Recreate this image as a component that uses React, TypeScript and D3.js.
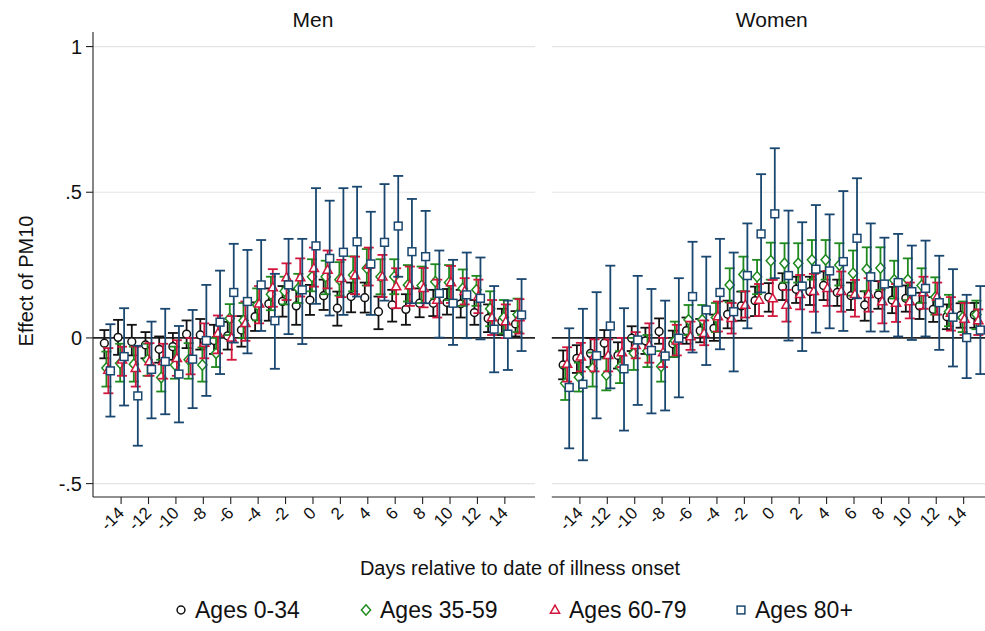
import React from 'react';
import * as d3 from 'd3';

const DAYS = [-15,-14,-13,-12,-11,-10,-9,-8,-7,-6,-5,-4,-3,-2,-1,0,1,2,3,4,5,6,7,8,9,10,11,12,13,14,15];
const X_TICKS = [-14,-12,-10,-8,-6,-4,-2,0,2,4,6,8,10,12,14];
const Y_TICKS = [1, 0.5, 0, -0.5];
const Y_TICK_LABELS = ['1', '.5', '0', '-.5'];
const PANELS = ['Men', 'Women'];
const GROUPS = ['Ages 0-34', 'Ages 35-59', 'Ages 60-79', 'Ages 80+'];

const MEN_A_EST = [-0.018,0.002,-0.013,-0.024,-0.039,-0.03,0.013,0.01,-0.009,0.007,0.027,0.073,0.117,0.125,0.11,0.13,0.145,0.102,0.142,0.138,0.09,0.113,0.098,0.119,0.119,0.122,0.117,0.087,0.067,0.056,0.048];
const MEN_A_LO = [-0.07,-0.058,-0.06,-0.07,-0.085,-0.075,-0.035,-0.04,-0.055,-0.04,-0.03,0.024,0.059,0.073,0.045,0.079,0.096,0.042,0.088,0.087,0.03,0.056,0.045,0.071,0.075,0.08,0.07,0.045,0.02,0.01,0.005];
const MEN_A_HI = [0.027,0.062,0.045,0.02,0.005,0.017,0.06,0.065,0.045,0.055,0.075,0.122,0.17,0.178,0.165,0.182,0.2,0.159,0.19,0.19,0.142,0.165,0.15,0.17,0.165,0.168,0.165,0.13,0.115,0.1,0.092];

const MEN_B_EST = [-0.103,-0.087,-0.09,-0.075,-0.136,-0.093,-0.075,-0.093,-0.053,0.067,0.06,0.113,0.15,0.16,0.17,0.21,0.21,0.2,0.216,0.239,0.21,0.21,0.182,0.18,0.193,0.19,0.17,0.165,0.1,0.07,0.08];
const MEN_B_LO = [-0.167,-0.15,-0.15,-0.13,-0.184,-0.14,-0.14,-0.15,-0.1,0.01,0.0,0.06,0.095,0.115,0.12,0.16,0.15,0.145,0.16,0.18,0.15,0.15,0.125,0.12,0.135,0.13,0.11,0.11,0.04,0.015,0.02];
const MEN_B_HI = [-0.047,-0.02,-0.03,-0.02,-0.075,-0.03,-0.018,-0.033,0.0,0.116,0.12,0.17,0.21,0.21,0.22,0.27,0.265,0.26,0.28,0.305,0.27,0.27,0.25,0.245,0.253,0.25,0.235,0.213,0.16,0.13,0.135];

const MEN_C_EST = [-0.11,-0.075,-0.104,-0.081,-0.08,-0.07,-0.07,-0.018,0.016,0.0,0.05,0.117,0.173,0.207,0.207,0.239,0.233,0.205,0.214,0.25,0.21,0.176,0.18,0.17,0.13,0.19,0.16,0.142,0.07,0.056,0.07];
const MEN_C_LO = [-0.19,-0.13,-0.167,-0.13,-0.14,-0.13,-0.125,-0.07,-0.053,-0.075,-0.01,0.05,0.107,0.13,0.142,0.176,0.17,0.14,0.15,0.18,0.14,0.102,0.11,0.105,0.07,0.12,0.115,0.085,0.01,0.0,0.015];
const MEN_C_HI = [-0.035,-0.03,-0.03,-0.018,-0.02,-0.008,0.0,0.05,0.077,0.075,0.125,0.178,0.236,0.256,0.273,0.31,0.3,0.268,0.279,0.31,0.285,0.239,0.245,0.24,0.2,0.247,0.205,0.2,0.13,0.115,0.133];

const MEN_D_EST = [-0.113,-0.064,-0.199,-0.108,-0.081,-0.124,-0.073,-0.009,0.054,0.156,0.125,0.182,0.059,0.182,0.165,0.316,0.273,0.294,0.33,0.254,0.328,0.384,0.296,0.279,0.153,0.119,0.148,0.136,0.03,0.013,0.079];
const MEN_D_LO = [-0.27,-0.232,-0.37,-0.276,-0.262,-0.29,-0.241,-0.199,-0.124,-0.016,-0.053,0.024,-0.106,0.013,-0.021,0.117,0.077,0.079,0.142,0.079,0.128,0.21,0.119,0.119,0.001,-0.024,-0.001,-0.005,-0.118,-0.11,-0.045];
const MEN_D_HI = [0.047,0.102,-0.027,0.056,0.1,0.041,0.096,0.182,0.231,0.323,0.302,0.336,0.22,0.34,0.34,0.514,0.471,0.514,0.519,0.433,0.528,0.556,0.477,0.436,0.3,0.268,0.293,0.276,0.178,0.128,0.202];

const WOMEN_A_EST = [-0.093,-0.07,-0.053,-0.018,-0.06,-0.001,-0.01,0.022,-0.02,0.025,0.025,0.033,0.081,0.11,0.128,0.14,0.176,0.167,0.159,0.18,0.156,0.145,0.113,0.148,0.13,0.136,0.11,0.098,0.073,0.077,0.079];
const WOMEN_A_LO = [-0.142,-0.12,-0.1,-0.065,-0.105,-0.045,-0.055,-0.02,-0.065,-0.02,-0.015,-0.01,0.033,0.059,0.075,0.09,0.13,0.12,0.113,0.13,0.11,0.096,0.059,0.1,0.085,0.09,0.065,0.055,0.03,0.035,0.035];
const WOMEN_A_HI = [-0.043,-0.025,0.0,0.027,-0.015,0.04,0.035,0.067,0.025,0.07,0.065,0.08,0.128,0.159,0.176,0.188,0.222,0.21,0.21,0.228,0.2,0.19,0.16,0.195,0.175,0.18,0.155,0.14,0.115,0.119,0.12];

const WOMEN_B_EST = [-0.156,-0.135,-0.104,-0.127,-0.1,-0.053,-0.045,-0.098,-0.01,0.062,0.062,0.07,0.182,0.218,0.21,0.265,0.256,0.256,0.268,0.268,0.25,0.222,0.236,0.24,0.199,0.2,0.18,0.14,0.09,0.07,0.08];
const WOMEN_B_LO = [-0.213,-0.184,-0.167,-0.18,-0.155,-0.11,-0.1,-0.15,-0.065,0.01,0.01,0.02,0.122,0.16,0.15,0.2,0.19,0.19,0.2,0.2,0.18,0.145,0.16,0.165,0.135,0.13,0.12,0.08,0.04,0.02,0.03];
const WOMEN_B_HI = [-0.1,-0.085,-0.05,-0.07,-0.045,0.0,0.01,-0.045,0.056,0.113,0.113,0.12,0.239,0.279,0.268,0.327,0.325,0.325,0.336,0.336,0.325,0.3,0.311,0.311,0.265,0.273,0.239,0.208,0.148,0.125,0.128];

const WOMEN_C_EST = [-0.09,-0.065,-0.06,-0.06,-0.05,-0.025,-0.025,-0.05,-0.01,0.005,0.016,0.073,0.067,0.113,0.13,0.135,0.113,0.15,0.16,0.17,0.16,0.15,0.15,0.125,0.12,0.125,0.156,0.14,0.085,0.065,0.06];
const WOMEN_C_LO = [-0.15,-0.115,-0.115,-0.115,-0.1,-0.07,-0.085,-0.1,-0.06,-0.041,-0.025,0.022,0.015,0.07,0.075,0.075,0.056,0.098,0.09,0.11,0.09,0.073,0.09,0.05,0.055,0.067,0.1,0.08,0.025,0.01,0.01];
const WOMEN_C_HI = [-0.032,-0.017,-0.005,-0.005,0.0,0.02,0.05,0.0,0.045,0.056,0.06,0.125,0.12,0.16,0.185,0.199,0.165,0.216,0.22,0.23,0.228,0.199,0.205,0.193,0.185,0.19,0.21,0.19,0.14,0.12,0.098];

const WOMEN_D_EST = [-0.17,-0.159,-0.061,0.041,-0.106,-0.007,-0.043,-0.062,-0.001,0.142,0.096,0.156,0.09,0.214,0.357,0.426,0.214,0.178,0.236,0.23,0.262,0.342,0.21,0.185,0.19,0.159,0.17,0.121,0.071,0.001,0.027];
const WOMEN_D_LO = [-0.379,-0.42,-0.276,-0.173,-0.318,-0.23,-0.259,-0.249,-0.204,-0.05,-0.093,-0.039,-0.115,0.033,0.156,0.205,-0.009,-0.045,0.018,0.033,0.024,0.136,0.022,0.022,0.005,-0.007,0.005,-0.041,-0.098,-0.138,-0.124];
const WOMEN_D_HI = [0.033,0.1,0.157,0.248,0.102,0.213,0.168,0.128,0.205,0.33,0.279,0.34,0.293,0.393,0.562,0.651,0.437,0.397,0.456,0.424,0.504,0.548,0.393,0.344,0.357,0.317,0.334,0.282,0.236,0.148,0.178];

const PANEL_DATA = [
  [
    [MEN_A_EST, MEN_A_LO, MEN_A_HI],
    [MEN_B_EST, MEN_B_LO, MEN_B_HI],
    [MEN_C_EST, MEN_C_LO, MEN_C_HI],
    [MEN_D_EST, MEN_D_LO, MEN_D_HI],
  ],
  [
    [WOMEN_A_EST, WOMEN_A_LO, WOMEN_A_HI],
    [WOMEN_B_EST, WOMEN_B_LO, WOMEN_B_HI],
    [WOMEN_C_EST, WOMEN_C_LO, WOMEN_C_HI],
    [WOMEN_D_EST, WOMEN_D_LO, WOMEN_D_HI],
  ],
];

const COLORS = ['#111111', '#1e8a1e', '#d2163c', '#1a476f'];
const OFFSETS = [-0.22, -0.07, 0.07, 0.22];
const FONT = '"Liberation Sans", Arial, Helvetica, sans-serif';

function Marker({ kind, x, y, color }: { kind: number; x: number; y: number; color: string }) {
  const sw = 1.5;
  if (kind === 0) return <circle cx={x} cy={y} r={3.9} fill="#fff" stroke={color} strokeWidth={sw} />;
  if (kind === 1)
    return <path d={`M${x},${y - 5.2}L${x + 4.6},${y}L${x},${y + 5.2}L${x - 4.6},${y}Z`} fill="#fff" stroke={color} strokeWidth={sw} />;
  if (kind === 2)
    return <path d={`M${x},${y - 4.9}L${x + 4.6},${y + 3.2}L${x - 4.6},${y + 3.2}Z`} fill="#fff" stroke={color} strokeWidth={sw} />;
  return <rect x={x - 3.9} y={y - 3.9} width={7.8} height={7.8} fill="#fff" stroke={color} strokeWidth={sw} />;
}

export default function App() {
  const W = 985, H = 631;
  const yScale = d3.scaleLinear().domain([-0.546, 1.05]).range([497, 32]);
  const panelLeft = [93, 551.8];
  const panelWidth = 442;
  const xDomain: [number, number] = [-16.05, 16.2];

  return (
    <svg width={W} height={H} style={{ position: 'absolute', left: 0, top: 0, background: '#fff' }} fontFamily={FONT}>
      <rect x={0} y={0} width={W} height={H} fill="#fff" />
      {PANELS.map((title, pi) => {
        const x0 = panelLeft[pi];
        const xScale = d3.scaleLinear().domain(xDomain).range([x0, x0 + panelWidth]);
        const series = PANEL_DATA[pi];
        return (
          <g key={title}>
            {Y_TICKS.filter((t) => t !== 0).map((t) => (
              <line key={t} x1={x0} x2={x0 + panelWidth} y1={yScale(t)} y2={yScale(t)} stroke="#e4e4e4" strokeWidth={1.2} />
            ))}
            <text x={xScale(0)} y={27} textAnchor="middle" fontSize={21} fill="#111">{title}</text>
            <line x1={x0} x2={x0 + panelWidth} y1={yScale(0)} y2={yScale(0)} stroke="#222" strokeWidth={1.9} />
            <line x1={x0} x2={x0 + panelWidth} y1={497} y2={497} stroke="#222" strokeWidth={1.1} />
            {X_TICKS.map((t) => (
              <g key={t}>
                <line x1={xScale(t)} x2={xScale(t)} y1={497} y2={504} stroke="#222" strokeWidth={1.1} />
                <text
                  transform={`translate(${xScale(t) + 4},${514}) rotate(-45)`}
                  textAnchor="end"
                  fontSize={17}
                  fill="#111"
                >
                  {t}
                </text>
              </g>
            ))}
            {pi === 0 && (
              <g>
                <line x1={x0} x2={x0} y1={32} y2={497} stroke="#222" strokeWidth={1.1} />
                {Y_TICKS.map((t, i) => (
                  <g key={t}>
                    <line x1={x0 - 7} x2={x0} y1={yScale(t)} y2={yScale(t)} stroke="#222" strokeWidth={1.1} />
                    <text x={x0 - 11} y={yScale(t)} dy="0.35em" textAnchor="end" fontSize={20} fill="#111">
                      {Y_TICK_LABELS[i]}
                    </text>
                  </g>
                ))}
              </g>
            )}
            {series.map(([est, lo, hi], si) => (
              <g key={si}>
                {DAYS.map((d, di) => {
                  const cx = xScale(d + OFFSETS[si]);
                  const yl = yScale(lo[di]);
                  const yh = yScale(hi[di]);
                  return (
                    <g key={d} stroke={COLORS[si]} strokeWidth={1.8}>
                      <line x1={cx} x2={cx} y1={yl} y2={yh} />
                      <line x1={cx - 5} x2={cx + 5} y1={yl} y2={yl} />
                      <line x1={cx - 5} x2={cx + 5} y1={yh} y2={yh} />
                    </g>
                  );
                })}
                {DAYS.map((d, di) => (
                  <Marker key={d} kind={si} x={xScale(d + OFFSETS[si])} y={yScale(est[di])} color={COLORS[si]} />
                ))}
              </g>
            ))}
          </g>
        );
      })}
      <text transform={`translate(33,${281}) rotate(-90)`} textAnchor="middle" fontSize={20} fill="#111">Effect of PM10</text>
      <text x={520} y={575} textAnchor="middle" fontSize={20} fill="#111">Days relative to date of illness onset</text>
      {GROUPS.map((g, i) => {
        const mx = [181, 366, 555, 741][i];
        return (
          <g key={g}>
            <Marker kind={i} x={mx} y={610} color={COLORS[i]} />
            <text x={mx + 14} y={618} fontSize={23} fill="#111">{g}</text>
          </g>
        );
      })}
    </svg>
  );
}
